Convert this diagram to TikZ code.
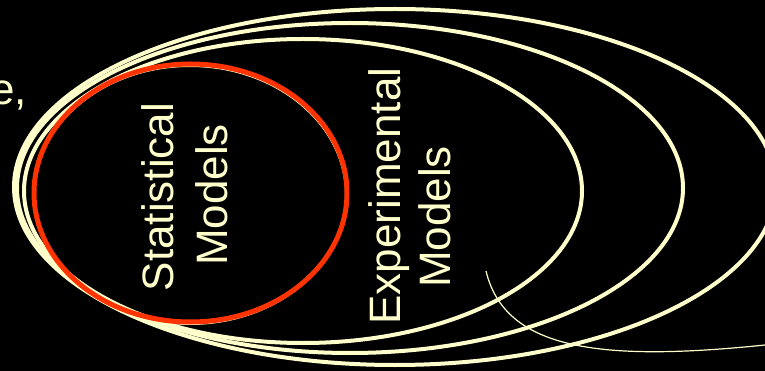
\documentclass[tikz,border=0pt]{standalone}
\usepackage{fontspec}
\setmainfont{Liberation Sans}
\definecolor{cream}{HTML}{FFFFCC}
\definecolor{setred}{HTML}{FF3300}
\tikzset{
  ring/.style={draw=cream, line width=4pt},
  redring/.style={draw=setred, line width=5pt},
  lbl/.style={text=cream, font=\fontsize{44}{53}\selectfont, inner sep=0pt},
  vlbl/.style={lbl, rotate=90, anchor=base},
  link/.style={draw=cream, line width=1.2pt}
}

\begin{document}
\begin{tikzpicture}[x=1pt, y=-1pt]
    \fill[black] (0,0) rectangle (765,371);
    \useasboundingbox (0,0) rectangle (765,371);
    \draw[ring] (395,187) ellipse [x radius=381, y radius=178];
    \draw[ring] (350,188) ellipse [x radius=333, y radius=165];
    \draw[ring] (303,191) ellipse [x radius=279, y radius=152];
    \draw[ring, line width=2pt] (190,195) ellipse [x radius=156, y radius=129];
    \draw[redring] (190.5,193) ellipse [x radius=156.5, y radius=129];
    \node[lbl, anchor=base east] (frag) at (27,105) {e,};
    \node[vlbl] (stat) at (173,197) {Statistical};
    \node[vlbl] (statb) at (227,195) {Models};
    \node[vlbl] (expt) at (400,196) {Experimental};
    \node[vlbl] (exptb) at (450,217) {Models};
    \coordinate (tip) at (486,271);
    \coordinate (off) at (765,345);
    \draw[link] (tip) .. controls (505,350) and (600,362) .. (off);
  \end{tikzpicture}
\end{document}
